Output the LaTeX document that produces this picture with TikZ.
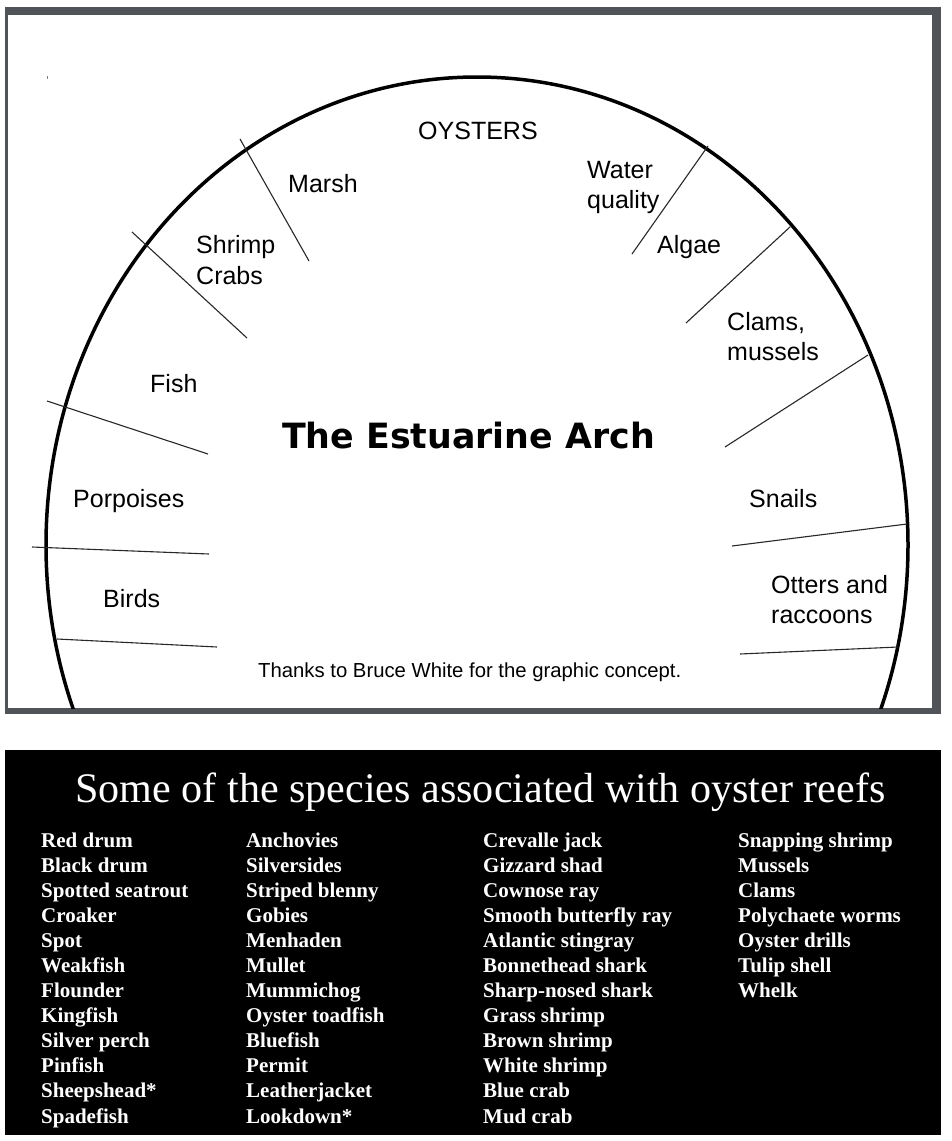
\documentclass[tikz,border=0pt]{standalone}
\usepackage{fontspec}
\setmainfont{Liberation Sans}
\newfontfamily\seriffont{Liberation Serif}
\newfontfamily\archfont{DejaVu Sans}
\definecolor{framegray}{RGB}{80,83,87}
\definecolor{divgray}{RGB}{40,40,40}
\tikzset{
  lbl/.style={inner sep=0pt, anchor=base west, font=\fontsize{25}{30}\selectfont},
  divider/.style={draw=divgray, line width=1.1pt},
  species/.style={inner sep=0pt, anchor=base west, text=white, font=\seriffont\bfseries\fontsize{21}{25}\selectfont}
}
\begin{document}
\begin{tikzpicture}[x=1pt,y=-1pt]
\useasboundingbox (0,0) rectangle (951,1141);
\fill[white] (0,0) rectangle (951,1141);
% top panel frame
\fill[framegray] (5,7) rectangle (941,714);
\fill[white] (8,15) rectangle (932,708);
% tiny mark
\draw[gray, line width=0.8pt] (47,75.5) -- (47,79);
% arch
\begin{scope}
\clip (8,15) rectangle (932,708);
\draw[black, line width=3.5pt] (477,545) ellipse [x radius=431, y radius=468];
\end{scope}
% dividers
\coordinate (d1a) at (240,139); \coordinate (d1b) at (309,261);
\coordinate (d2a) at (132,232); \coordinate (d2b) at (247,338);
\coordinate (d3a) at (47,401);  \coordinate (d3b) at (208,454);
\coordinate (d4a) at (32,547);  \coordinate (d4b) at (209,554);
\coordinate (d5a) at (57,639);  \coordinate (d5b) at (217,647);
\coordinate (d6a) at (708,146); \coordinate (d6b) at (632,254);
\coordinate (d7a) at (790,227); \coordinate (d7b) at (686,323);
\coordinate (d8a) at (868,355); \coordinate (d8b) at (725,447);
\coordinate (d9a) at (907,524); \coordinate (d9b) at (732,546);
\coordinate (d10a) at (898,647); \coordinate (d10b) at (740,654);
\foreach \i in {1,...,10} {\draw[divider] (d\i a) -- (d\i b);}
% labels
\node[lbl] (oysters) at (418,139) {OYSTERS};
\node[lbl] (marsh) at (288,192) {Marsh};
\node[lbl] (shrimp) at (196,253) {Shrimp};
\node[lbl] (crabs) at (196,284) {Crabs};
\node[lbl] (water) at (587,178) {Water};
\node[lbl] (quality) at (587,208) {quality};
\node[lbl] (algae) at (657,253) {Algae};
\node[lbl] (clams) at (727,330) {Clams,};
\node[lbl] (mussels) at (727,360) {mussels};
\node[lbl] (fish) at (150,392) {Fish};
\node[lbl] (porpoises) at (73,507) {Porpoises};
\node[lbl] (birds) at (103,607) {Birds};
\node[lbl] (snails) at (749,507) {Snails};
\node[lbl] (otters) at (771,593) {Otters and};
\node[lbl] (raccoons) at (771,623) {raccoons};
\node[inner sep=0pt, anchor=base west, font=\fontsize{20.3}{24}\selectfont] (thanks) at (258,677) {Thanks to Bruce White for the graphic concept.};
\node[inner sep=0pt, anchor=base west, text=black, font=\archfont\bfseries\fontsize{34.8}{40}\selectfont] (title) at (282,448) {The Estuarine Arch};
% bottom panel
\fill[black] (5,750) rectangle (941,1135);
\node[inner sep=0pt, anchor=base, text=white, font=\seriffont\fontsize{42.1}{48}\selectfont] (spectitle) at (480.5,802) {Some of the species associated with oyster reefs};
\foreach \t [count=\i from 0] in {Red drum,Black drum,Spotted seatrout,Croaker,Spot,Weakfish,Flounder,Kingfish,Silver perch,Pinfish,Sheepshead*,Spadefish}
  \node[species] (a\i) at (41,847+25.09*\i) {\t};
\foreach \t [count=\i from 0] in {Anchovies,Silversides,Striped blenny,Gobies,Menhaden,Mullet,Mummichog,Oyster toadfish,Bluefish,Permit,Leatherjacket,Lookdown*}
  \node[species] (b\i) at (246,847+25.09*\i) {\t};
\foreach \t [count=\i from 0] in {Crevalle jack,Gizzard shad,Cownose ray,Smooth butterfly ray,Atlantic stingray,Bonnethead shark,Sharp-nosed shark,Grass shrimp,Brown shrimp,White shrimp,Blue crab,Mud crab}
  \node[species] (c\i) at (483,847+25.09*\i) {\t};
\foreach \t [count=\i from 0] in {Snapping shrimp,Mussels,Clams,Polychaete worms,Oyster drills,Tulip shell,Whelk}
  \node[species] (e\i) at (738,847+25.09*\i) {\t};
\end{tikzpicture}
\end{document}
